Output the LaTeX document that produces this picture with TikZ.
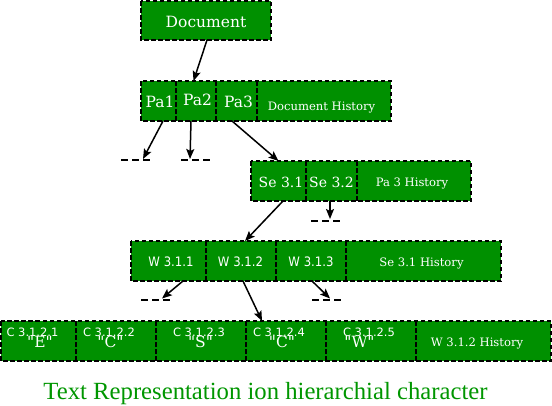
\documentclass[tikz,border=0pt]{standalone}
\usepackage{fontspec}
\usetikzlibrary{arrows.meta}
\newfontfamily\bigserif{DejaVu Serif}
\newfontfamily\condsans[FakeStretch=0.9]{DejaVu Sans}
\newfontfamily\plainsans{DejaVu Sans}
\newfontfamily\capfont{Liberation Serif}
\definecolor{boxgreen}{RGB}{0,144,0}
\definecolor{capgreen}{RGB}{0,150,0}
\newcommand{\qsize}{\bigserif\fontsize{15.5}{17}\selectfont}
\newcommand{\lsize}{\plainsans\fontsize{11.5}{13}\selectfont}
\newcommand{\twoline}[3]{\vtop{\baselineskip=11pt\lineskiplimit=-20pt\lineskip=0pt
  \hbox to 0pt{\hss\lsize #1\hss}\hbox to 0pt{\hss\kern#3pt\qsize #2\hss}}}
\tikzset{
  cell/.style={fill=boxgreen, draw=none, inner sep=0pt, outer sep=0pt, anchor=north west, minimum height=40pt},
  bord/.style={draw=black, line width=1.6pt, dash pattern=on 4.5pt off 2.5pt},
  bigt/.style={font=\bigserif\fontsize{15.5}{17}\selectfont, text=white, inner sep=0pt, anchor=base},
  set/.style={font=\bigserif\fontsize{14}{16}\selectfont, text=white, inner sep=0pt, anchor=base},
  smallt/.style={font=\bigserif\fontsize{11.6}{14}\selectfont, text=white, inner sep=0pt, anchor=base},
  sanst/.style={font=\condsans\fontsize{13}{15}\selectfont, text=white, inner sep=0pt, anchor=base},
  twot/.style={text=white, inner sep=0pt, anchor=base},
  stubmark/.style={inner sep=0pt, outer sep=0pt, minimum width=30pt, minimum height=0pt},
  stubline/.style={draw=black, line width=1.5pt, dash pattern=on 7pt off 4pt},
  arr/.style={draw=black, line width=1.5pt, -{Stealth[length=10pt,width=8pt,inset=2pt]}},
}
\begin{document}
\begin{tikzpicture}[x=1pt,y=-1pt]
\useasboundingbox (0,0) rectangle (552,405);
% Document
\node[cell, minimum width=130pt, minimum height=39pt] (doc) at (141,1) {};
\draw[bord] (doc.north west) rectangle (doc.south east);
\node[bigt] (doct) at (206,27) {Document};
% Row 2
\node[cell, minimum width=35pt] (pa1) at (141,81) {};
\node[cell, minimum width=40pt] (pa2) at (176,81) {};
\node[cell, minimum width=41pt] (pa3) at (216,81) {};
\node[cell, minimum width=134pt] (dh) at (257,81) {};
\draw[bord] (pa1.north west) rectangle (dh.south east);
\draw[bord] (pa1.north east) -- (pa1.south east);
\draw[bord] (pa2.north east) -- (pa2.south east);
\draw[bord] (pa3.north east) -- (pa3.south east);
\node[bigt] (pa1t) at (160,107) {Pa1};
\node[bigt] (pa2t) at (197.5,105.5) {Pa2};
\node[bigt] (pa3t) at (238.5,107) {Pa3};
\node[smallt] (dht) at (321.5,110) {Document History};
% Row 3
\node[cell, minimum width=55pt] (se31) at (251,161) {};
\node[cell, minimum width=51pt] (se32) at (306,161) {};
\node[cell, minimum width=114pt] (p3h) at (357,161) {};
\draw[bord] (se31.north west) rectangle (p3h.south east);
\draw[bord] (se31.north east) -- (se31.south east);
\draw[bord] (se32.north east) -- (se32.south east);
\node[set] (se31t) at (281,187) {Se 3.1};
\node[set] (se32t) at (331.5,187) {Se 3.2};
\node[smallt] (p3ht) at (412,186) {Pa 3 History};
% Row 4
\node[cell, minimum width=75pt] (w311) at (131,241) {};
\node[cell, minimum width=70pt] (w312) at (206,241) {};
\node[cell, minimum width=70pt] (w313) at (276,241) {};
\node[cell, minimum width=155pt] (s31h) at (346,241) {};
\draw[bord] (w311.north west) rectangle (s31h.south east);
\draw[bord] (w311.north east) -- (w311.south east);
\draw[bord] (w312.north east) -- (w312.south east);
\draw[bord] (w313.north east) -- (w313.south east);
\node[sanst] (w311t) at (171,266) {W 3.1.1};
\node[sanst] (w312t) at (240.5,266) {W 3.1.2};
\node[sanst] (w313t) at (311,266) {W 3.1.3};
\node[smallt] (s31ht) at (421.5,266) {Se 3.1 History};
% Row 5
\node[cell, minimum width=75pt] (c1) at (1,321) {};
\node[cell, minimum width=80pt] (c2) at (76,321) {};
\node[cell, minimum width=90pt] (c3) at (156,321) {};
\node[cell, minimum width=80pt] (c4) at (246,321) {};
\node[cell, minimum width=90pt] (c5) at (326,321) {};
\node[cell, minimum width=135pt] (w2h) at (416,321) {};
\draw[bord] (c1.north west) rectangle (w2h.south east);
\draw[bord] (c1.north east) -- (c1.south east);
\draw[bord] (c2.north east) -- (c2.south east);
\draw[bord] (c3.north east) -- (c3.south east);
\draw[bord] (c4.north east) -- (c4.south east);
\draw[bord] (c5.north east) -- (c5.south east);
\node[twot] (c1t) at (32.5,336) {\twoline{C 3.1.2.1}{"E"}{15}};
\node[twot] (c2t) at (109,336) {\twoline{C 3.1.2.2}{"C"}{3}};
\node[twot] (c3t) at (199,336) {\twoline{C 3.1.2.3}{"S"}{3}};
\node[twot] (c4t) at (279,336) {\twoline{C 3.1.2.4}{"C"}{6}};
\node[twot] (c5t) at (369,336) {\twoline{C 3.1.2.5}{"W"}{-19}};
\node[smallt] (w2ht) at (477,346) {W 3.1.2 History};
% stubs
\node[stubmark] (u1) at (136,160) {};
\node[stubmark] (u2) at (196,160) {};
\node[stubmark] (u3) at (326,221) {};
\node[stubmark] (u4) at (156,300) {};
\node[stubmark] (u5) at (327,300) {};
\foreach \u in {u1,u2,u3,u4,u5} \draw[stubline] (\u.west) -- (\u.east);
% arrows
\draw[arr] ([xshift=1pt]doc.south) -- ([xshift=-2.5pt]pa2.north);
\draw[arr] ([xshift=4.5pt]pa1.south) -- ([xshift=7pt,yshift=1pt]u1.center);
\draw[arr] ([xshift=-5pt]pa2.south) -- ([xshift=-6pt,yshift=1pt]u2.center);
\draw[arr] ([xshift=-4.5pt]pa3.south) -- (se31.north);
\draw[arr] ([xshift=-1.5pt]se32.south) -- ([xshift=4pt,yshift=2pt]u3.center);
\draw[arr] ([xshift=4.5pt]se31.south) -- ([xshift=4pt]w312.north);
\draw[arr] ([xshift=14.5pt]w311.south) -- ([xshift=6pt,yshift=1.5pt]u4.center);
\draw[arr] ([xshift=1pt]w313.south) -- ([xshift=3pt,yshift=1.5pt]u5.center);
\draw[arr] ([xshift=2pt]w312.south) -- ([xshift=-24pt]c4.north);
% caption
\node[font=\capfont\fontsize{24.7}{28}\selectfont, text=capgreen, inner sep=0pt] (cap) at (265.5,393.5) {Text Representation ion hierarchial character};
\end{tikzpicture}
\end{document}
